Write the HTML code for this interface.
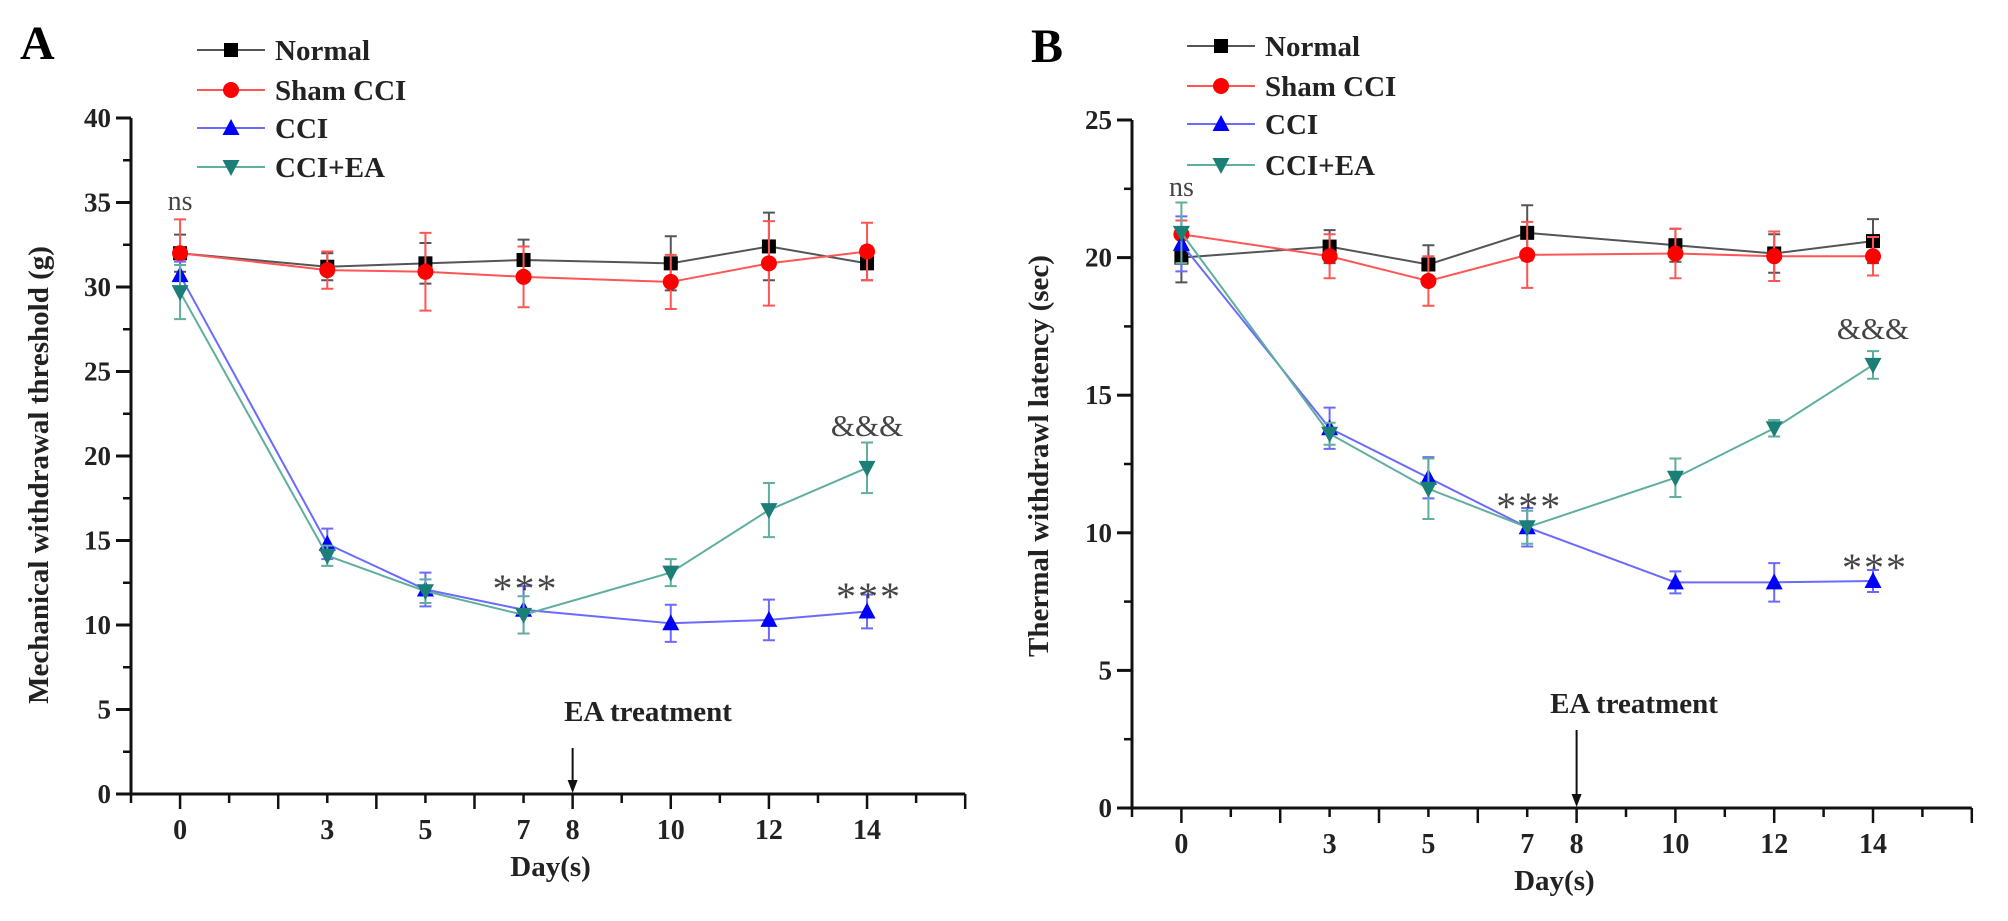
<!DOCTYPE html>
<html><head><meta charset="utf-8">
<style>
html,body{margin:0;padding:0;background:#fff;}
svg{display:block;}
text{font-family:"Liberation Serif",serif;}
</style></head>
<body>
<svg id="fig" width="2008" height="921" viewBox="0 0 2008 921" xmlns="http://www.w3.org/2000/svg"></svg>
<script>
// ---------- shared data ----------
const days = [0, 3, 5, 7, 10, 12, 14];
const dayTickLabels = [0, 3, 5, 7, 8, 10, 12, 14];
const seriesNames = ["Normal", "Sham CCI", "CCI", "CCI+EA"];

// Panel A: mechanical withdrawal threshold (g)
const aNormal = [32.0, 31.2, 31.4, 31.6, 31.4, 32.4, 31.4];
const aNormalErr = [1.1, 0.8, 1.2, 1.2, 1.6, 2.0, 1.0];
const aSham = [32.0, 31.0, 30.9, 30.6, 30.3, 31.4, 32.1];
const aShamErr = [2.0, 1.1, 2.3, 1.8, 1.6, 2.5, 1.7];
const aCCI = [30.7, 14.8, 12.1, 10.9, 10.1, 10.3, 10.8];
const aCCIErr = [0.8, 0.9, 1.0, 1.4, 1.1, 1.2, 1.0];
const aCCIEA = [29.7, 14.1, 12.0, 10.6, 13.1, 16.8, 19.3];
const aCCIEAErr = [1.6, 0.6, 0.7, 1.1, 0.8, 1.6, 1.5];
const aYTicks = [0, 5, 10, 15, 20, 25, 30, 35, 40];

// Panel B: thermal withdrawal latency (sec)
const bNormal = [20.0, 20.4, 19.75, 20.9, 20.45, 20.15, 20.6];
const bNormalErr = [0.9, 0.6, 0.7, 1.0, 0.6, 0.7, 0.8];
const bSham = [20.85, 20.05, 19.15, 20.1, 20.15, 20.05, 20.05];
const bShamErr = [0.5, 0.8, 0.9, 1.2, 0.9, 0.9, 0.7];
const bCCI = [20.5, 13.8, 12.0, 10.2, 8.2, 8.2, 8.25];
const bCCIErr = [1.0, 0.75, 0.75, 0.7, 0.4, 0.7, 0.4];
const bCCIEA = [20.9, 13.6, 11.6, 10.2, 12.0, 13.8, 16.1];
const bCCIEAErr = [1.1, 0.4, 1.1, 0.6, 0.7, 0.3, 0.5];
const bYTicks = [0, 5, 10, 15, 20, 25];

const NS = "http://www.w3.org/2000/svg";
const svg = document.getElementById("fig");
function mk(tag, attrs, parent) {
  const e = document.createElementNS(NS, tag);
  for (const k in attrs) e.setAttribute(k, attrs[k]);
  (parent || svg).appendChild(e);
  return e;
}
const styles = [
  {line: "#555", mark: "#000", err: "#555", shape: "square"},
  {line: "#f55", mark: "#f00", err: "#f55", shape: "circle"},
  {line: "#6a6aff", mark: "#0000ff", err: "#6a6aff", shape: "up"},
  {line: "#5fae9e", mark: "#1b7f78", err: "#5fae9e", shape: "down"}
];
function marker(g, shape, x, y, fill) {
  let m;
  if (shape === "square") m = mk("rect", {x: x - 7, y: y - 7, width: 14, height: 14, fill: fill}, g);
  else if (shape === "circle") m = mk("circle", {cx: x, cy: y, r: 8, fill: fill}, g);
  else if (shape === "up") m = mk("polygon", {points: `${x},${y - 9} ${x - 8.5},${y + 7} ${x + 8.5},${y + 7}`, fill: fill}, g);
  else m = mk("polygon", {points: `${x},${y + 9} ${x - 8.5},${y - 7} ${x + 8.5},${y - 7}`, fill: fill}, g);
  return m;
}

function drawPanel(p) {
  const g = mk("g", {});
  
  
  const X = d => p.x0 + (d - (-1)) * p.dx;
  const Y = v => p.y0 - (v / p.yMax) * (p.y0 - p.yTop);

  const L = mk("text", {x: p.letterX, y: p.letterY, "font-size": 48, "font-weight": "bold"}, g);
  L.textContent = p.letter;
  
  

  const ax = mk("path", {d: `M${p.x0},${p.yTop} V${p.y0} H${X(16)}`, stroke: "#111", "stroke-width": 3, fill: "none"}, g);
  
  
  for (let i = 0; i < p.yTicks.length; i++) {
    const v = p.yTicks[i];
    mk("line", {x1: p.x0 - 15, x2: p.x0, y1: Y(v), y2: Y(v), stroke: "#111", "stroke-width": 3}, g);
    if (i < p.yTicks.length - 1) {
      const mv = (v + p.yTicks[i + 1]) / 2;
      mk("line", {x1: p.x0 - 8, x2: p.x0, y1: Y(mv), y2: Y(mv), stroke: "#111", "stroke-width": 2.5}, g);
    }
    const t = mk("text", {x: p.x0 - 20, y: Y(v) + 9, "font-size": 27, "font-weight": "bold", "text-anchor": "end", fill: "#222"}, g);
    t.textContent = v;
    
    
  }
  for (let d = -1; d <= 16; d++) {
    const len = (d % 2 === 0) ? 15 : 9;
    mk("line", {x1: X(d), x2: X(d), y1: p.y0, y2: p.y0 + len, stroke: "#111", "stroke-width": 2.5}, g);
  }
  for (const d of dayTickLabels) {
    const t = mk("text", {x: X(d), y: p.y0 + 45, "font-size": 28, "font-weight": "bold", "text-anchor": "middle", fill: "#222"}, g);
    t.textContent = d;
    
    
  }
  const xt = mk("text", {x: X(7.55), y: p.y0 + 82, "font-size": 29, "font-weight": "bold", "text-anchor": "middle", fill: "#222"}, g);
  xt.textContent = "Day(s)";
  
  
  const yt = mk("text", {x: 0, y: 0, "font-size": 29, "font-weight": "bold", "text-anchor": "middle", fill: "#222", transform: `translate(${p.ytX},${p.ytY}) rotate(-90)`}, g);
  yt.textContent = p.yTitle;
  
  

  const ea = mk("text", {x: p.eaX, y: p.eaY, "font-size": 29, "font-weight": "bold", "text-anchor": "middle", fill: "#222"}, g);
  ea.textContent = "EA treatment";
  
  
  const ar = mk("line", {x1: X(8), x2: X(8), y1: p.arrowTop, y2: p.y0 - 10, stroke: "#111", "stroke-width": 2}, g);
  
  
  mk("polygon", {points: `${X(8) - 5},${p.y0 - 14} ${X(8) + 5},${p.y0 - 14} ${X(8)},${p.y0 - 1}`, fill: "#111"}, g);

  for (let s = 0; s < 4; s++) {
    const vals = p.series[s], errs = p.errs[s], st = styles[s];
    const sg = mk("g", {}, g);
    
    
    const pts = days.map((d, i) => `${X(d)},${Y(vals[i])}`).join(" ");
    mk("polyline", {points: pts, fill: "none", stroke: st.line, "stroke-width": 2}, sg);
    days.forEach((d, i) => {
      const x = X(d), y1 = Y(vals[i] + errs[i]), y2 = Y(vals[i] - errs[i]);
      mk("path", {d: `M${x},${y1} V${y2} M${x - 6},${y1} H${x + 6} M${x - 6},${y2} H${x + 6}`, stroke: st.err, "stroke-width": 2, fill: "none"}, sg);
    });
    days.forEach((d, i) => {
      const m = marker(sg, st.shape, X(d), Y(vals[i]), st.mark);
      
      
    });
  }

  for (const a of p.annots) {
    const star = a.txt === "***";
    const t = mk("text", {x: X(a.d) + (star ? 2 : 0), y: a.y + (star ? 12 : 0), "font-size": star ? 40 : (a.txt === "ns" ? 28 : 31), "letter-spacing": star ? 2 : 0, "text-anchor": "middle", fill: "#444"}, g);
    t.textContent = a.txt;
    
    
  }

  const lg = mk("g", {}, g);
  
  
  for (let s = 0; s < 4; s++) {
    const y = p.legY[s], st = styles[s];
    const e = mk("g", {}, lg);
    
    
    mk("line", {x1: p.legX, x2: p.legX + 68, y1: y, y2: y, stroke: st.line, "stroke-width": 2}, e);
    marker(e, st.shape, p.legX + 34, y, st.mark);
    const t = mk("text", {x: p.legX + 78, y: y + 10, "font-size": 29, "font-weight": "bold", fill: "#222"}, e);
    t.textContent = seriesNames[s];
  }
}

drawPanel({
  id: "panel-a", letter: "A", letterX: 20, letterY: 59,
  x0: 131, dx: 49.07, y0: 794, yTop: 118, yMax: 40, yTicks: aYTicks,
  series: [aNormal, aSham, aCCI, aCCIEA], errs: [aNormalErr, aShamErr, aCCIErr, aCCIEAErr],
  yTitle: "Mechanical withdrawal threshold (g)", ytX: 48, ytY: 475,
  eaX: 648, eaY: 721, arrowTop: 748,
  annots: [{d: 0, y: 210, txt: "ns"}, {d: 7, y: 590, txt: "***"}, {d: 14, y: 436, txt: "&&&"}, {d: 14, y: 598, txt: "***"}],
  legX: 197, legY: [50, 90, 128, 167]
});
drawPanel({
  id: "panel-b", letter: "B", letterX: 1031, letterY: 62,
  x0: 1132, dx: 49.4, y0: 808, yTop: 120, yMax: 25, yTicks: bYTicks,
  series: [bNormal, bSham, bCCI, bCCIEA], errs: [bNormalErr, bShamErr, bCCIErr, bCCIEAErr],
  yTitle: "Thermal withdrawl latency (sec)", ytX: 1048, ytY: 456,
  eaX: 1634, eaY: 713, arrowTop: 730,
  annots: [{d: 0, y: 196, txt: "ns"}, {d: 7, y: 508, txt: "***"}, {d: 14, y: 339, txt: "&&&"}, {d: 14, y: 569, txt: "***"}],
  legX: 1187, legY: [46, 86, 124, 165]
});
</script>
</body></html>
